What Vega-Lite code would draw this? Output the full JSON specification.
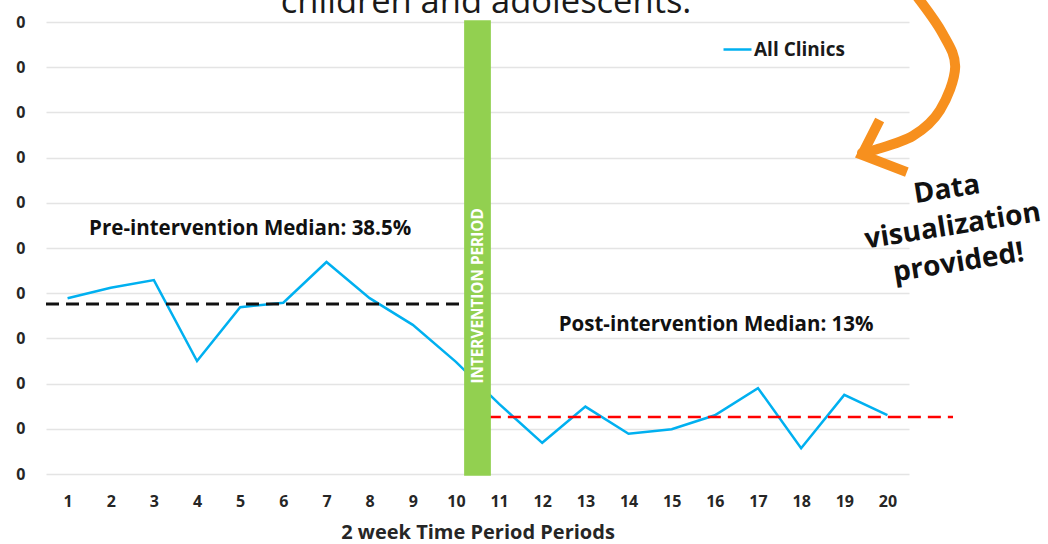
{
  "$schema": "https://vega.github.io/schema/vega-lite/v6.json",
  "width": 863,
  "height": 452,
  "autosize": {"type": "none"},
  "padding": {"left": 46, "top": 22, "right": 139, "bottom": 70},
  "background": "white",
  "config": {"view": {"stroke": null}, "font": "Open Sans"},
  "datasets": {
    "series": [
      {"period": 1, "value": 38.9},
      {"period": 2, "value": 41.2},
      {"period": 3, "value": 42.9},
      {"period": 4, "value": 25.0},
      {"period": 5, "value": 36.9},
      {"period": 6, "value": 37.9},
      {"period": 7, "value": 46.9},
      {"period": 8, "value": 38.9},
      {"period": 9, "value": 33.0},
      {"period": 10, "value": 24.8},
      {"period": 11, "value": 15.5},
      {"period": 12, "value": 6.9},
      {"period": 13, "value": 14.9},
      {"period": 14, "value": 8.9},
      {"period": 15, "value": 9.9},
      {"period": 16, "value": 13.0},
      {"period": 17, "value": 19.0},
      {"period": 18, "value": 5.7},
      {"period": 19, "value": 17.5},
      {"period": 20, "value": 13.0}
    ],
    "arrow": [
      {"i": 0, "x": 20.64, "y": 106.2},
      {"i": 1, "x": 21.27, "y": 97.6},
      {"i": 2, "x": 21.57, "y": 90.0},
      {"i": 3, "x": 21.22, "y": 80.5},
      {"i": 4, "x": 20.59, "y": 74.8},
      {"i": 5, "x": 19.67, "y": 71.6},
      {"i": 6, "x": 19.41, "y": 71.0}
    ],
    "arrowhead": [
      {"i": 0, "x": 19.82, "y": 78.3},
      {"i": 1, "x": 19.41, "y": 70.6},
      {"i": 2, "x": 20.45, "y": 66.8}
    ],
    "one": [{}]
  },
  "layer": [
    {
      "data": {"name": "series"},
      "mark": {"type": "line", "strokeWidth": 2.5},
      "encoding": {
        "x": {
          "field": "period",
          "type": "quantitative",
          "scale": {"domain": [0.5, 20.5], "nice": false, "zero": false},
          "axis": {
            "values": [1,2,3,4,5,6,7,8,9,10,11,12,13,14,15,16,17,18,19,20],
            "grid": false, "domain": false, "ticks": false,
            "labelFontWeight": "bold", "labelFontSize": 16, "labelColor": "#262626",
            "labelPadding": 19,
            "title": "2 week Time Period Periods",
            "titleFontWeight": "bold", "titleFontSize": 20, "titleColor": "#262626",
            "titlePadding": 13
          }
        },
        "y": {
          "field": "value",
          "type": "quantitative",
          "scale": {"domain": [0, 100], "nice": false},
          "axis": {
            "values": [0,10,20,30,40,50,60,70,80,90,100],
            "labelExpr": "slice(datum.label, -1)",
            "grid": true, "gridColor": "#e4e4e4", "gridWidth": 1.5,
            "domain": false, "ticks": false,
            "labelFontWeight": "bold", "labelFontSize": 16, "labelColor": "#262626",
            "labelPadding": 21,
            "title": null
          }
        },
        "color": {
          "datum": "All Clinics",
          "scale": {"domain": ["All Clinics"], "range": ["#00B0F0"]},
          "legend": {
            "title": null, "orient": "none", "legendX": 676, "legendY": 12,
            "symbolType": "stroke", "symbolSize": 784, "symbolStrokeWidth": 2.5,
            "labelFontSize": 19, "labelFontWeight": "bold", "labelColor": "#1a1a1a",
            "labelOffset": 1
          }
        }
      }
    },
    {
      "data": {"name": "one"},
      "mark": {"type": "rule", "color": "#111111", "strokeWidth": 3, "strokeDash": [13, 7]},
      "encoding": {"x": {"datum": 0.5}, "x2": {"datum": 10.2}, "y": {"datum": 37.6}}
    },
    {
      "data": {"name": "one"},
      "mark": {"type": "rule", "color": "#ff0000", "strokeWidth": 2.5, "strokeDash": [13, 7]},
      "encoding": {"x": {"datum": 10.74}, "x2": {"datum": 21.52}, "y": {"datum": 12.6}}
    },
    {
      "data": {"name": "one"},
      "mark": {"type": "rect", "color": "#92D050"},
      "encoding": {"x": {"datum": 10.19}, "x2": {"datum": 10.81}, "y": {"datum": -0.4}, "y2": {"datum": 100.4}}
    },
    {
      "data": {"name": "one"},
      "mark": {"type": "text", "text": "INTERVENTION PERIOD", "angle": 270, "color": "white", "fontWeight": "bold", "fontSize": 15.3, "align": "center", "baseline": "middle"},
      "encoding": {"x": {"datum": 10.5}, "y": {"datum": 39.4}}
    },
    {
      "data": {"name": "one"},
      "mark": {"type": "text", "text": "Pre-intervention Median: 38.5%", "color": "#111111", "fontWeight": "bold", "fontSize": 20.5, "align": "center", "baseline": "middle"},
      "encoding": {"x": {"datum": 5.23}, "y": {"datum": 54.2}}
    },
    {
      "data": {"name": "one"},
      "mark": {"type": "text", "text": "Post-intervention Median: 13%", "color": "#111111", "fontWeight": "bold", "fontSize": 20.5, "align": "center", "baseline": "middle"},
      "encoding": {"x": {"datum": 16.03}, "y": {"datum": 33.0}}
    },
    {
      "data": {"name": "one"},
      "mark": {"type": "text", "text": "children and adolescents.", "color": "#1a1a1a", "fontSize": 34.5, "align": "center", "baseline": "alphabetic"},
      "encoding": {"x": {"datum": 10.7}, "y": {"datum": 102}}
    },
    {
      "data": {"name": "arrow"},
      "mark": {"type": "line", "color": "#F7901E", "strokeWidth": 10, "interpolate": "cardinal", "strokeCap": "round"},
      "encoding": {
        "x": {"field": "x", "type": "quantitative"},
        "y": {"field": "y", "type": "quantitative"},
        "order": {"field": "i"}
      }
    },
    {
      "data": {"name": "arrowhead"},
      "mark": {"type": "line", "color": "#F7901E", "strokeWidth": 10, "strokeCap": "butt", "strokeJoin": "miter"},
      "encoding": {
        "x": {"field": "x", "type": "quantitative"},
        "y": {"field": "y", "type": "quantitative"},
        "order": {"field": "i"}
      }
    },
    {
      "data": {"name": "one"},
      "mark": {"type": "text", "text": ["Data", "visualization", "provided!"], "color": "#111111", "fontWeight": "bold", "fontSize": 28, "lineHeight": 37, "align": "center", "baseline": "middle", "angle": -9},
      "encoding": {"x": {"datum": 21.38}, "y": {"datum": 62.8}}
    }
  ]
}
